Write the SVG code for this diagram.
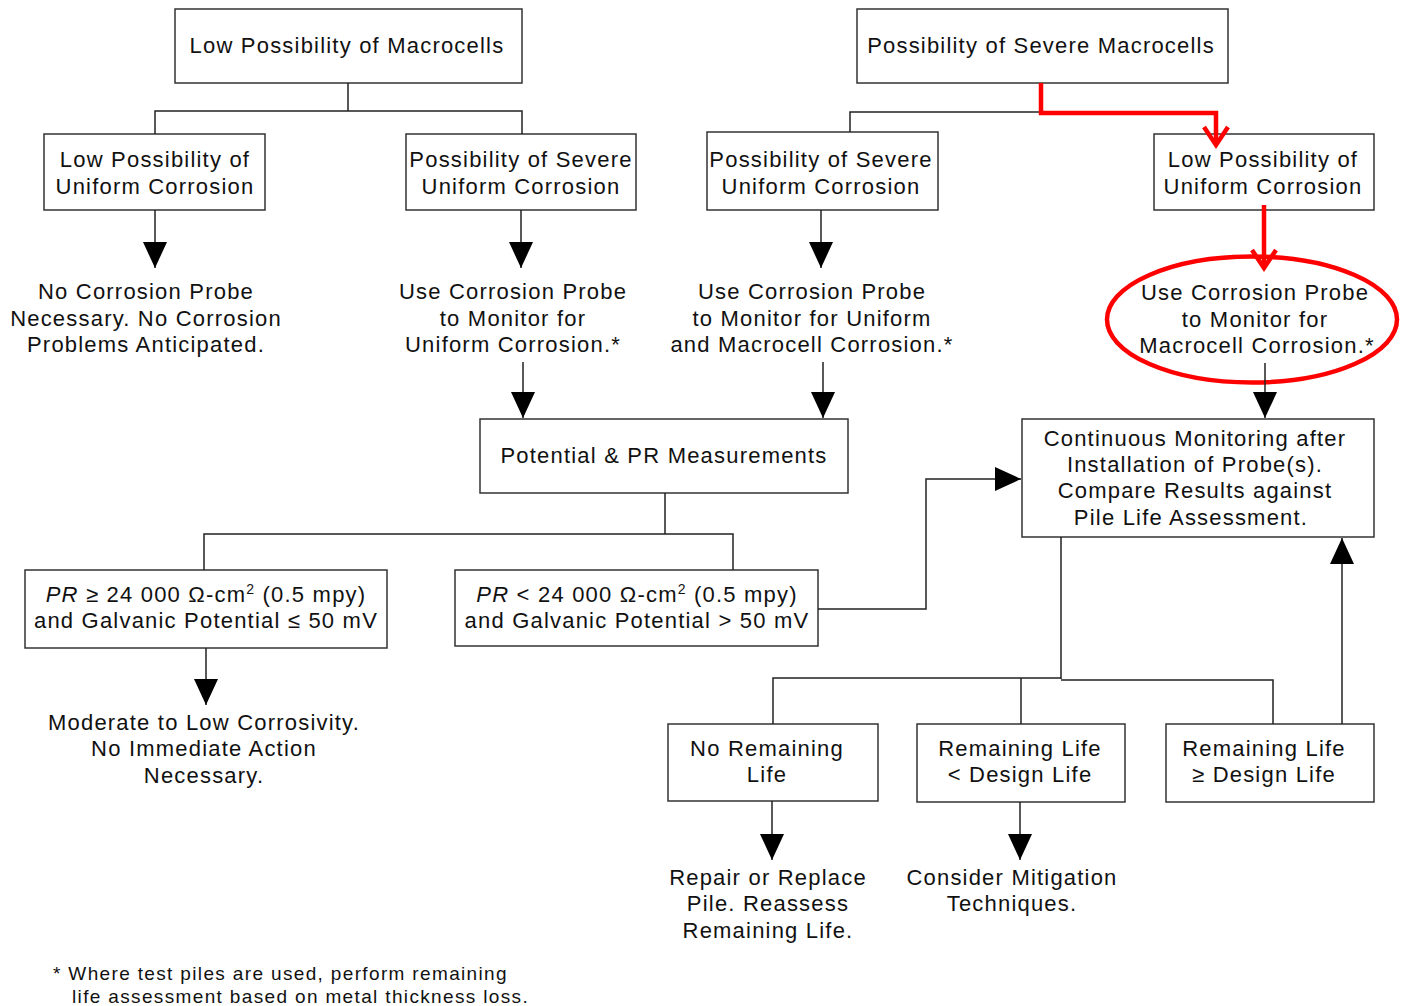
<svg xmlns="http://www.w3.org/2000/svg" width="1408" height="1006" viewBox="0 0 1408 1006">
<style>
.box{fill:#fff;stroke:#333;stroke-width:1.5}
.t{font-family:"Liberation Sans",Arial,sans-serif;font-size:22px;letter-spacing:1.2px;fill:#111;text-anchor:middle}
.fn{font-family:"Liberation Sans",Arial,sans-serif;font-size:19px;letter-spacing:1.35px;fill:#111}
.ln{fill:none;stroke:#222;stroke-width:1.5}
.red{fill:none;stroke:#f00;stroke-width:4.5}
</style>
<defs>
<marker id="arr" viewBox="0 0 26 24" refX="26" refY="12" markerWidth="26" markerHeight="24" markerUnits="userSpaceOnUse" orient="auto">
<path d="M0,0 L26,12 L0,24 z" fill="#000"/>
</marker>
</defs>
<rect width="1408" height="1006" fill="#fff"/>

<g id="n_low_macro">
<rect class="box" x="175" y="9" width="347" height="74"/>
<text class="t" x="347" y="53">Low Possibility of Macrocells</text>
</g>
<g id="n_sev_macro">
<rect class="box" x="857" y="9" width="371" height="74"/>
<text class="t" x="1041" y="53">Possibility of Severe Macrocells</text>
</g>
<g id="n_low_uni_l">
<rect class="box" x="44" y="134" width="221" height="76"/>
<text class="t" x="155" y="167">Low Possibility of</text>
<text class="t" x="155" y="194">Uniform Corrosion</text>
</g>
<g id="n_sev_uni_l">
<rect class="box" x="406" y="134" width="230" height="76"/>
<text class="t" x="521" y="167">Possibility of Severe</text>
<text class="t" x="521" y="194">Uniform Corrosion</text>
</g>
<g id="n_sev_uni_r">
<rect class="box" x="707" y="132" width="231" height="78"/>
<text class="t" x="821" y="167">Possibility of Severe</text>
<text class="t" x="821" y="194">Uniform Corrosion</text>
</g>
<g id="n_low_uni_r">
<rect class="box" x="1154" y="134" width="220" height="76"/>
<text class="t" x="1263" y="167">Low Possibility of</text>
<text class="t" x="1263" y="194">Uniform Corrosion</text>
</g>

<g id="n_no_probe">
<text class="t" x="146" y="299">No Corrosion Probe</text>
<text class="t" x="146" y="326">Necessary. No Corrosion</text>
<text class="t" x="146" y="352">Problems Anticipated.</text>
</g>
<g id="n_probe_uni">
<text class="t" x="513" y="299">Use Corrosion Probe</text>
<text class="t" x="513" y="326">to Monitor for</text>
<text class="t" x="513" y="352">Uniform Corrosion.*</text>
</g>
<g id="n_probe_both">
<text class="t" x="812" y="299">Use Corrosion Probe</text>
<text class="t" x="812" y="326">to Monitor for Uniform</text>
<text class="t" x="812" y="352">and Macrocell Corrosion.*</text>
</g>
<g id="n_probe_macro">
<ellipse cx="1252" cy="319.5" rx="145" ry="63" fill="none" stroke="#f00" stroke-width="4.5"/>
<text class="t" x="1255" y="300">Use Corrosion Probe</text>
<text class="t" x="1255" y="327">to Monitor for</text>
<text class="t" x="1257" y="353">Macrocell Corrosion.*</text>
</g>

<g id="n_potential">
<rect class="box" x="480" y="419" width="368" height="74"/>
<text class="t" x="664" y="463">Potential &amp; PR Measurements</text>
</g>
<g id="n_continuous">
<rect class="box" x="1022" y="419" width="352" height="118"/>
<text class="t" x="1195" y="446">Continuous Monitoring after</text>
<text class="t" x="1195" y="472">Installation of Probe(s).</text>
<text class="t" x="1195" y="498">Compare Results against</text>
<text class="t" x="1191" y="525">Pile Life Assessment.</text>
</g>

<g id="n_pr_ge">
<rect class="box" x="25" y="570" width="362" height="78"/>
<text class="t" x="206" y="602"><tspan font-style="italic">PR</tspan> ≥ 24 000 Ω-cm<tspan font-size="14" dy="-8">2</tspan><tspan dy="8"> (0.5 mpy)</tspan></text>
<text class="t" x="206" y="628">and Galvanic Potential ≤ 50 mV</text>
</g>
<g id="n_pr_lt">
<rect class="box" x="455" y="570" width="363" height="76"/>
<text class="t" x="637" y="602"><tspan font-style="italic">PR</tspan> &lt; 24 000 Ω-cm<tspan font-size="14" dy="-8">2</tspan><tspan dy="8"> (0.5 mpy)</tspan></text>
<text class="t" x="637" y="628">and Galvanic Potential &gt; 50 mV</text>
</g>

<g id="n_moderate">
<text class="t" x="204" y="730">Moderate to Low Corrosivity.</text>
<text class="t" x="204" y="756">No Immediate Action</text>
<text class="t" x="204" y="783">Necessary.</text>
</g>

<g id="n_no_life">
<rect class="box" x="668" y="724" width="210" height="77"/>
<text class="t" x="767" y="756">No Remaining</text>
<text class="t" x="767" y="782">Life</text>
</g>
<g id="n_lt_design">
<rect class="box" x="917" y="724" width="208" height="78"/>
<text class="t" x="1020" y="756">Remaining Life</text>
<text class="t" x="1020" y="782">&lt; Design Life</text>
</g>
<g id="n_ge_design">
<rect class="box" x="1166" y="724" width="208" height="78"/>
<text class="t" x="1264" y="756">Remaining Life</text>
<text class="t" x="1264" y="782">≥ Design Life</text>
</g>

<g id="n_repair">
<text class="t" x="768" y="885">Repair or Replace</text>
<text class="t" x="768" y="911">Pile. Reassess</text>
<text class="t" x="768" y="938">Remaining Life.</text>
</g>
<g id="n_mitigation">
<text class="t" x="1012" y="885">Consider Mitigation</text>
<text class="t" x="1012" y="911">Techniques.</text>
</g>

<g id="footnote">
<text class="fn" x="53" y="980">* Where test piles are used, perform remaining</text>
<text class="fn" x="72" y="1003">life assessment based on metal thickness loss.</text>
</g>

<g id="connectors">
<path class="ln" d="M348,83 V111 M155,134 V111 H522 V134"/>
<path class="ln" d="M850,132 V112 H1041"/>
<path class="ln" d="M155,210 V268" marker-end="url(#arr)"/>
<path class="ln" d="M521,210 V268" marker-end="url(#arr)"/>
<path class="ln" d="M821,210 V268" marker-end="url(#arr)"/>
<path class="ln" d="M523,362 V418" marker-end="url(#arr)"/>
<path class="ln" d="M823,362 V418" marker-end="url(#arr)"/>
<path class="ln" d="M1265,363 V418" marker-end="url(#arr)"/>
<path class="ln" d="M665,493 V534 M204,570 V534 H733 V570"/>
<path class="ln" d="M818,609 H926 V479 H1021" marker-end="url(#arr)"/>
<path class="ln" d="M206,648 V705" marker-end="url(#arr)"/>
<path class="ln" d="M1061,537 V679 M773,724 V678 H1061 M1021,678 V724 M1061,680 H1273 V724"/>
<path class="ln" d="M1342,724 V538" marker-end="url(#arr)"/>
<path class="ln" d="M772,801 V860" marker-end="url(#arr)"/>
<path class="ln" d="M1020,802 V860" marker-end="url(#arr)"/>
<path class="red" d="M1041,83 V113 H1216 V144"/>
<path class="red" d="M1204,127 L1216,145 L1228,127"/>
<path class="red" d="M1264,205 V267"/>
<path class="red" d="M1252,250 L1264,268 L1276,250"/>
</g>
</svg>
